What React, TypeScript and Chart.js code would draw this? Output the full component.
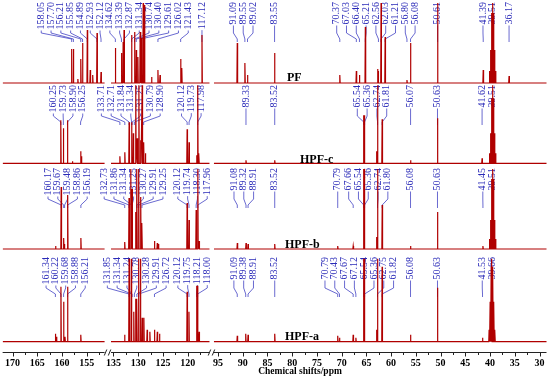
import React, { useEffect, useRef } from "react";
import { Chart, registerables } from "chart.js";

Chart.register(...registerables);

// ---- broken x axis (ppm) : three displayed windows ----
const SEGMENTS = [
  { hi: 172, lo: 151.4, v0: 0 },
  { hi: 135.5, lo: 115.6, v0: 21.9 },
  { hi: 95.8, lo: 28.6, v0: 42.7 },
];
const MAJOR_TICKS = [170, 165, 160, 155, 135, 130, 125, 120, 95, 90, 85, 80, 75, 70, 65, 60, 55, 50, 45, 40, 35, 30];
const MINOR_TICKS = [167.5, 162.5, 157.5, 152.5, 132.5, 127.5, 122.5, 117.5, 92.5, 87.5, 82.5, 77.5, 72.5, 67.5, 62.5, 57.5, 52.5, 47.5, 42.5, 37.5, 32.5];
const X_TITLE = "Chemical shifts/ppm";

// ---- spectra: [ppm, intensity] ----
const SPECTRA_NAMES = ["PF", "HPF-c", "HPF-b", "HPF-a"];

const PF_PEAKS: [number, number][] = [
  [158.05, 34], [157.70, 34], [156.80, 4], [156.21, 24], [155.85, 40], [154.89, 53], [154.30, 13], [153.80, 8], [152.93, 50], [152.12, 11],
  [134.62, 35], [133.39, 30], [133.05, 41], [132.87, 53], [131.34, 48], [130.74, 51], [130.40, 33], [130.07, 26], [129.61, 51], [129.38, 45],
  [129.00, 80], [128.72, 78], [127.30, 6], [126.02, 13], [125.60, 8], [121.43, 24], [121.20, 15], [117.12, 48],
  [91.09, 40], [89.55, 20], [89.02, 8], [83.55, 30], [70.37, 8], [67.03, 12], [66.40, 8], [65.21, 56], [62.70, 14], [62.56, 12], [62.03, 80],
  [61.21, 46], [56.80, 3], [56.08, 40], [50.61, 80], [41.39, 13], [40.13, 12], [39.92, 33], [39.71, 70], [39.51, 80], [39.30, 70], [39.09, 33],
  [38.88, 12], [36.17, 7],
];
const PF_LABELS = [158.05, 157.70, 156.21, 155.85, 154.89, 152.93, 152.12, 134.62, 133.39, 132.87, 131.34, 130.74, 130.40, 129.61, 126.02, 121.43, 117.12,
  91.09, 89.55, 89.02, 83.55, 70.37, 67.03, 66.40, 65.21, 62.56, 62.03, 61.21, 56.80, 56.08, 50.61, 41.39, 39.51, 36.17];

const HPFC_PEAKS: [number, number][] = [
  [160.25, 43], [159.73, 35], [158.90, 43], [157.90, 2], [156.25, 12], [156.10, 7],
  [133.71, 7], [132.71, 11], [131.84, 41], [131.34, 41], [131.00, 30], [130.50, 78], [130.20, 25], [129.87, 78], [129.50, 23], [129.20, 78],
  [128.90, 21], [128.55, 10], [120.12, 34], [119.73, 21], [118.20, 8], [117.98, 78], [117.75, 10],
  [89.33, 3], [83.52, 3], [65.54, 48], [65.36, 48], [62.95, 12], [62.74, 78], [61.81, 44], [56.07, 3], [50.63, 45], [41.62, 5],
  [40.13, 10], [39.92, 30], [39.71, 65], [39.51, 78], [39.30, 65], [39.09, 30], [38.88, 10],
];
const HPFC_LABELS = [160.25, 159.73, 158.90, 156.25, 133.71, 132.71, 131.84, 131.34, 131.25, 130.79, 128.90, 120.12, 119.73, 117.98,
  89.33, 83.52, 65.54, 65.36, 62.74, 61.81, 56.07, 50.63, 41.62, 39.51];

const HPFB_PEAKS: [number, number][] = [
  [161.30, 3], [160.17, 62], [159.67, 11], [159.48, 5], [158.86, 54], [156.19, 11],
  [132.73, 7], [131.86, 51], [131.50, 80], [131.25, 60], [130.50, 37], [130.27, 80], [129.91, 80], [129.50, 52], [129.25, 26], [126.72, 8],
  [126.15, 6], [125.90, 5], [120.12, 46], [119.74, 29], [118.30, 39], [117.96, 80], [117.70, 8],
  [91.08, 6], [89.32, 6], [88.91, 5], [83.52, 5], [70.79, 3], [67.66, 3], [65.54, 80], [65.36, 80], [62.95, 12], [62.74, 80], [61.80, 44],
  [56.08, 3], [50.63, 37], [41.45, 3], [40.13, 10], [39.92, 29], [39.71, 70], [39.51, 80], [39.30, 70], [39.09, 29], [38.88, 10],
];
const HPFB_LABELS = [160.17, 159.67, 159.48, 158.86, 156.19, 132.73, 131.86, 131.34, 131.25, 130.27, 129.91, 129.25, 120.12, 119.74, 118.30, 117.96,
  91.08, 89.32, 88.91, 83.52, 70.79, 67.66, 65.54, 65.36, 62.74, 61.80, 56.08, 50.63, 41.45, 39.51];

const HPFA_PEAKS: [number, number][] = [
  [161.34, 8], [161.10, 5], [160.22, 55], [159.68, 40], [159.40, 5], [158.88, 55], [156.21, 7],
  [132.75, 7], [131.85, 83], [131.40, 83], [130.90, 30], [130.50, 43], [130.28, 43], [129.91, 83], [129.55, 83], [129.20, 24], [128.86, 24],
  [128.20, 12], [127.65, 10], [126.72, 12], [126.15, 10], [125.70, 8], [120.12, 50], [119.75, 30], [118.21, 56], [118.00, 56], [117.70, 10],
  [91.09, 6], [89.38, 8], [88.91, 7], [83.52, 8], [70.79, 6], [70.43, 4], [67.67, 7], [67.12, 4], [65.54, 83], [65.36, 83], [62.95, 12],
  [62.75, 83], [61.82, 75], [56.08, 7], [50.63, 54], [41.53, 4], [40.20, 12], [39.99, 40], [39.78, 75], [39.66, 83], [39.45, 75], [39.24, 40], [39.03, 12],
];
const HPFA_LABELS = [161.34, 160.22, 159.68, 158.88, 156.21, 131.85, 131.34, 131.24, 130.78, 130.28, 129.91, 126.72, 120.12, 119.75, 118.21, 118.00,
  91.09, 89.38, 88.91, 83.52, 70.79, 70.43, 67.67, 67.12, 65.54, 65.36, 62.75, 61.82, 56.08, 50.63, 41.53, 39.66];

// ---- layout (not data) ----
const BASELINES = [269, 188.7, 103, 10.3]; // y-units above axis
const LABEL_TOP = [2, 85, 168, 257]; // px
const NAME_POS: [number, number][] = [[287, 78], [300, 160], [285, 245], [285, 337]];
const RED = "#b00000";
const BLUE = "#2a2ab8";
const LEADER = "#4444c4";
const SERIF = '"Liberation Serif", "DejaVu Serif", serif';
const HALF_W = 0.07;
const LABEL_GAP = 9.8;

function toV(ppm: number): number {
  for (const s of SEGMENTS) if (ppm <= s.hi && ppm >= s.lo) return s.v0 + (s.hi - ppm);
  return NaN;
}
function fromV(v: number): number {
  for (const s of SEGMENTS) if (v >= s.v0 - 1e-6 && v <= s.v0 + (s.hi - s.lo) + 1e-6) return s.hi - (v - s.v0);
  return NaN;
}

function buildTrace(peaks: [number, number][], base: number) {
  const pts: { x: number; y: number | null }[] = [];
  for (const s of SEGMENTS) {
    const inSeg = peaks.filter((p) => p[0] <= s.hi && p[0] >= s.lo).sort((a, b) => b[0] - a[0]);
    pts.push({ x: s.v0, y: base });
    for (const [ppm, h] of inSeg) {
      const v = toV(ppm);
      pts.push({ x: v - HALF_W, y: base }, { x: v, y: base + h }, { x: v + HALF_W, y: base });
    }
    const end = s.v0 + (s.hi - s.lo);
    pts.push({ x: end, y: base });
    pts.push({ x: end + 0.01, y: null });
  }
  return pts;
}

function spread(xs: number[], gap: number): number[] {
  let cl = xs.map((x) => ({ sum: x, n: 1 }));
  let changed = true;
  while (changed) {
    changed = false;
    for (let i = 0; i < cl.length - 1; i++) {
      const a = cl[i], b = cl[i + 1];
      const aEnd = a.sum / a.n + ((a.n - 1) / 2) * gap;
      const bStart = b.sum / b.n - ((b.n - 1) / 2) * gap;
      if (bStart - aEnd < gap) {
        cl.splice(i, 2, { sum: a.sum + b.sum, n: a.n + b.n });
        changed = true;
        break;
      }
    }
  }
  const out: number[] = [];
  for (const c of cl) {
    const c0 = c.sum / c.n - ((c.n - 1) / 2) * gap;
    for (let k = 0; k < c.n; k++) out.push(c0 + k * gap);
  }
  return out;
}

const ALL_PEAKS = [PF_PEAKS, HPFC_PEAKS, HPFB_PEAKS, HPFA_PEAKS];
const ALL_LABELS = [PF_LABELS, HPFC_LABELS, HPFB_LABELS, HPFA_LABELS];

const overlay = {
  id: "nmrOverlay",
  beforeDatasetsDraw(chart: any) {
    const ctx = chart.ctx as CanvasRenderingContext2D;
    const xs = chart.scales.x;
    ctx.save();
    ctx.font = `10px ${SERIF}`;
    ALL_LABELS.forEach((labels, si) => {
      const items = labels
        .map((ppm) => ({ ppm, px: xs.getPixelForValue(toV(ppm)) }))
        .sort((a, b) => a.px - b.px);
      const pos = spread(items.map((it) => it.px), LABEL_GAP);
      const top = LABEL_TOP[si];
      items.forEach((it, k) => {
        const lx = pos[k];
        const txt = it.ppm.toFixed(2);
        const tw = ctx.measureText(txt).width;
        ctx.save();
        ctx.translate(lx, top);
        ctx.rotate(-Math.PI / 2);
        ctx.textAlign = "right";
        ctx.textBaseline = "middle";
        ctx.fillStyle = BLUE;
        ctx.fillText(txt, 0, 0);
        ctx.restore();
        ctx.beginPath();
        ctx.strokeStyle = LEADER;
        ctx.lineWidth = 0.8;
        ctx.moveTo(lx, top + tw + 1);
        ctx.lineTo(lx, Math.max(top + 31, top + tw + 1));
        ctx.lineTo(it.px, top + 37);
        ctx.lineTo(it.px, top + 40);
        ctx.stroke();
      });
    });
    ctx.restore();
  },
  afterDraw(chart: any) {
    const ctx = chart.ctx as CanvasRenderingContext2D;
    const xs = chart.scales.x;
    const y = Math.round(chart.chartArea.bottom) + 0.5;
    ctx.save();
    ctx.strokeStyle = "#222";
    ctx.lineWidth = 1;
    const ends: [number, number][] = SEGMENTS.map((s) => [xs.getPixelForValue(s.v0), xs.getPixelForValue(s.v0 + s.hi - s.lo)]);
    ctx.beginPath();
    ends.forEach(([a, b]) => { ctx.moveTo(a, y); ctx.lineTo(b, y); });
    for (let i = 0; i < ends.length - 1; i++) {
      const m = (ends[i][1] + ends[i + 1][0]) / 2;
      ctx.moveTo(m - 3.5, y + 3); ctx.lineTo(m - 1, y - 3);
      ctx.moveTo(m + 0.5, y + 3); ctx.lineTo(m + 3, y - 3);
    }
    MAJOR_TICKS.forEach((p) => { const x = Math.round(xs.getPixelForValue(toV(p))) + 0.5; ctx.moveTo(x, y); ctx.lineTo(x, y + 4); });
    MINOR_TICKS.forEach((p) => { const x = Math.round(xs.getPixelForValue(toV(p))) + 0.5; ctx.moveTo(x, y); ctx.lineTo(x, y + 2.5); });
    ctx.stroke();

    ctx.fillStyle = "#000";
    ctx.font = `bold 12px ${SERIF}`;
    ctx.textAlign = "left";
    ctx.textBaseline = "middle";
    SPECTRA_NAMES.forEach((n, i) => ctx.fillText(n, NAME_POS[i][0], NAME_POS[i][1]));

    ctx.font = `bold 9.5px ${SERIF}`;
    ctx.textAlign = "center";
    ctx.fillText(X_TITLE, 300, 372);
    ctx.restore();
  },
};

export default function App() {
  const ref = useRef<HTMLCanvasElement | null>(null);
  useEffect(() => {
    document.body.style.margin = "0";
    const canvas = ref.current;
    if (!canvas) return;
    const chart = new Chart(canvas, {
      type: "line",
      data: {
        datasets: ALL_PEAKS.map((pk, i) => ({
          label: SPECTRA_NAMES[i],
          data: buildTrace(pk, BASELINES[i]) as any,
          borderColor: RED,
          borderWidth: 1.2,
          pointRadius: 0,
          tension: 0,
          fill: false,
          spanGaps: false,
        })),
      },
      options: {
        animation: false,
        responsive: false,
        maintainAspectRatio: false,
        layout: { padding: { left: 2, right: 2, top: 0, bottom: 0 } },
        plugins: { legend: { display: false }, tooltip: { enabled: false } },
        scales: {
          x: {
            type: "linear",
            min: 0,
            max: 110.2,
            grid: { display: false, drawTicks: false },
            border: { display: false },
            ticks: {
              autoSkip: false,
              maxRotation: 0,
              padding: 5,
              color: "#000",
              font: { family: SERIF, size: 10, weight: "bold" },
              callback: (v: any) => String(Math.round(fromV(Number(v)))),
            },
            afterBuildTicks: (scale: any) => {
              scale.ticks = MAJOR_TICKS.map((p) => ({ value: toV(p) }));
            },
            afterFit: (scale: any) => {
              scale.height = 26;
            },
          },
          y: { display: false, min: 0, max: 352 },
        },
      },
      plugins: [overlay],
    });
    return () => chart.destroy();
  }, []);
  return <canvas ref={ref} width={550} height={378} style={{ display: "block" }} />;
}
